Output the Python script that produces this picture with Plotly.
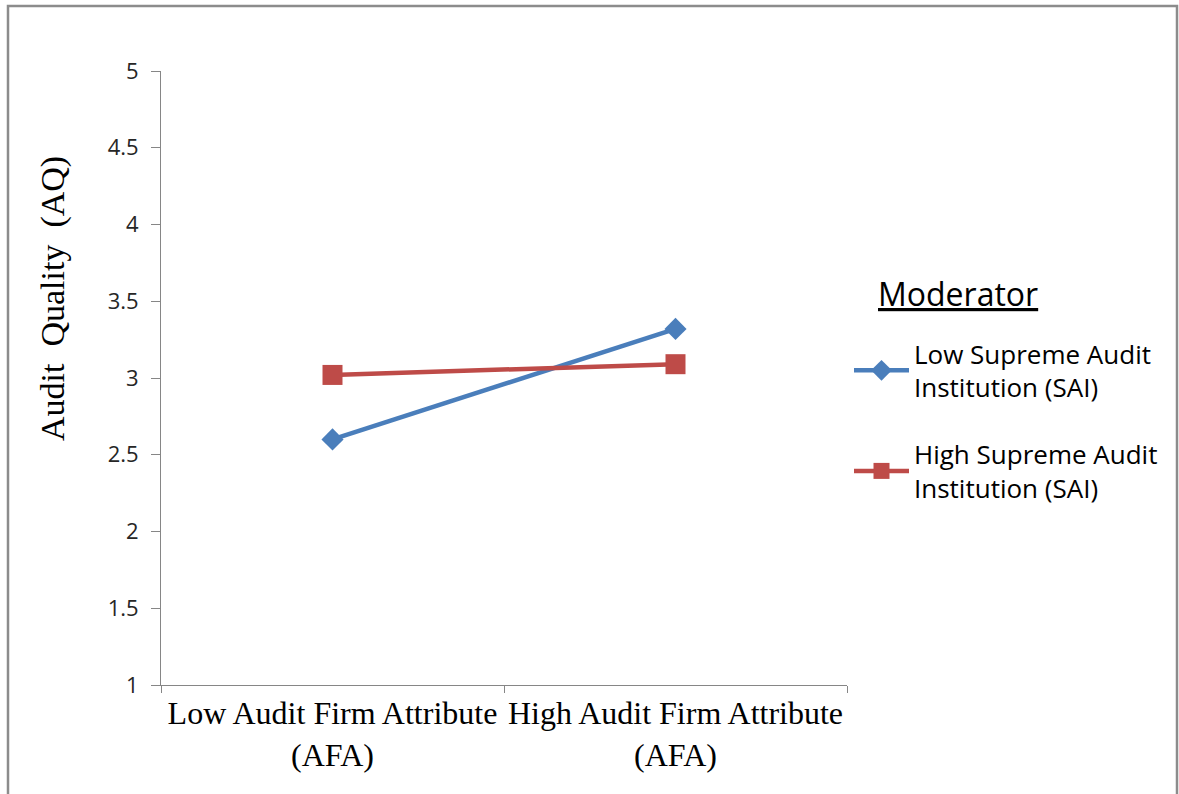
import plotly.graph_objects as go

# Interaction plot: audit quality by audit firm attribute, split by SAI level
categories = ["Low Audit Firm Attribute<br>(AFA)", "High Audit Firm Attribute<br>(AFA)"]
series_names = ["Low Supreme Audit<br>Institution (SAI)", "High Supreme Audit<br>Institution (SAI)"]
low_sai = [2.60, 3.32]
high_sai = [3.02, 3.09]
y_ticks = [1, 1.5, 2, 2.5, 3, 3.5, 4, 4.5, 5]
y_title = "Audit  Quality  (AQ)"
legend_title = "Moderator"

BLUE = "#4a7ebb"
RED = "#be4b48"
AXIS = "#868686"

# plot-area geometry in pixels (used to place paper-referenced extras)
L, R, T, B = 161, 847, 71, 685
W, H = R - L, B - T


def px_x(x):
    return (x - L) / W


def px_y(y):
    return (B - y) / H


fig = go.Figure()
fig.add_trace(go.Scatter(
    x=categories, y=low_sai, name=series_names[0], mode="lines+markers",
    legendgroup="a",
    line=dict(color=BLUE, width=4.5),
    marker=dict(symbol="diamond", size=17, color=BLUE),
))
fig.add_trace(go.Scatter(
    x=categories, y=high_sai, name=series_names[1], mode="lines+markers",
    legendgroup="b",
    line=dict(color=RED, width=4.5),
    marker=dict(symbol="square", size=20, color=RED),
))

fig.update_layout(
    width=1179, height=794,
    margin=dict(l=L, r=1179 - R, t=T, b=794 - B),
    paper_bgcolor="white", plot_bgcolor="white",
    showlegend=True,
    legend=dict(
        font=dict(family="Open Sans", size=26, color="black"),
        x=px_x(849), xanchor="left", y=px_y(330), yanchor="top",
        tracegroupgap=30, itemwidth=55,
        bgcolor="rgba(0,0,0,0)",
    ),
    xaxis=dict(
        type="category", tickson="boundaries", range=[-0.5, 1.5],
        showline=True, linecolor=AXIS, linewidth=1,
        ticks="outside", ticklen=7, tickcolor=AXIS,
        tickangle=0, automargin=False,
        showgrid=False, zeroline=False,
        tickfont=dict(family="Liberation Serif", size=32, color="black"),
    ),
    yaxis=dict(
        range=[1, 5], tickvals=y_ticks, ticktext=[f"{v:g}" for v in y_ticks],
        showline=True, linecolor=AXIS, linewidth=1,
        ticks="outside", ticklen=9, tickcolor=AXIS,
        ticklabelstandoff=8, automargin=False,
        showgrid=False, zeroline=False,
        tickfont=dict(family="Open Sans", size=22, color="#262626"),
    ),
)

# y-axis title
fig.add_annotation(text=y_title, xref="paper", yref="paper",
                   x=px_x(53), y=px_y(298), textangle=-90, showarrow=False,
                   xanchor="center", yanchor="middle",
                   font=dict(family="Liberation Serif", size=34, color="black"))

# legend heading
fig.add_annotation(text=f"<u>{legend_title}</u>", xref="paper", yref="paper",
                   x=px_x(876), y=px_y(293), showarrow=False,
                   xanchor="left", yanchor="middle",
                   font=dict(family="Open Sans", size=32, color="black"))

# outer chart frame
fig.add_shape(type="rect", xref="paper", yref="paper",
              x0=px_x(8), x1=px_x(1177), y0=px_y(900), y1=px_y(6),
              line=dict(color="#8c8c8c", width=2.5), fillcolor="rgba(0,0,0,0)", layer="below")

fig.write_html("out.html")
